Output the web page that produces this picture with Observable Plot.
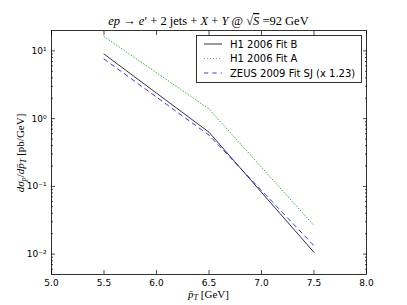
<!DOCTYPE html>
<html>
<head>
<meta charset="utf-8">
<script src="https://cdn.jsdelivr.net/npm/d3@7"></script>
<script src="https://cdn.jsdelivr.net/npm/@observablehq/plot@0.6"></script>
<style>
  html, body { margin: 0; padding: 0; background: #fff; }
  #chart { width: 407px; height: 305px; }
</style>
</head>
<body>
<div id="chart"></div>
<script>
// ---- data ----
const pt = [5.5, 6.5, 7.5];
const fitB = [9.0, 0.63, 0.0106];
const fitA = [16.3, 1.39, 0.0264];
const zeus = [7.6, 0.57, 0.0133];

const seriesNames = ["H1 2006 Fit B", "H1 2006 Fit A", "ZEUS 2009 Fit SJ (x 1.23)"];
const seriesColors = ["#000000", "#119f11", "#0000ff"];
const seriesDash = [null, "0.8,2.2", "4.2,4.2"];

const xTicks = [5.0, 5.5, 6.0, 6.5, 7.0, 7.5, 8.0];
const yMajor = [0.01, 0.1, 1, 10];
const yMinor = [0.006, 0.007, 0.008, 0.009,
  0.02, 0.03, 0.04, 0.05, 0.06, 0.07, 0.08, 0.09,
  0.2, 0.3, 0.4, 0.5, 0.6, 0.7, 0.8, 0.9,
  2, 3, 4, 5, 6, 7, 8, 9];

const rows = [];
[fitB, fitA, zeus].forEach((vals, i) => {
  vals.forEach((v, j) => rows.push({series: seriesNames[i], x: pt[j], y: v}));
});

const supMap = {"-": "\u207B", "0": "\u2070", "1": "\u00B9", "2": "\u00B2", "3": "\u00B3"};
const sup = d => "10" + String(Math.round(Math.log10(d))).split("").map(c => supMap[c]).join("");
const blank = () => "";

const tickFont = "DejaVu Sans, sans-serif";

const chart = Plot.plot({
  width: 407,
  height: 305,
  marginLeft: 51,
  marginRight: 41,
  marginTop: 30,
  marginBottom: 31,
  style: {fontFamily: tickFont, fontSize: "9px", background: "#fff", color: "#000"},
  x: {domain: [5, 8]},
  y: {type: "log", domain: [0.005, 20]},
  marks: [
    Plot.axisX(xTicks, {anchor: "bottom", tickSize: 0, tickPadding: 5, tickFormat: d3.format(".1f"), label: null, fontSize: 9}),
    Plot.axisX(xTicks, {anchor: "bottom", tickSize: -4, tickFormat: blank, label: null, strokeWidth: 0.7}),
    Plot.axisX(xTicks, {anchor: "top", tickSize: -4, tickFormat: blank, label: null, strokeWidth: 0.7}),
    Plot.axisY(yMajor, {anchor: "left", tickSize: 0, tickPadding: 5, tickFormat: sup, label: null, fontSize: 9}),
    Plot.axisY(yMajor, {anchor: "left", tickSize: -4, tickFormat: blank, label: null, strokeWidth: 0.7}),
    Plot.axisY(yMinor, {anchor: "left", tickSize: -2, tickFormat: blank, label: null, strokeWidth: 0.7}),
    Plot.axisY(yMajor, {anchor: "right", tickSize: -4, tickFormat: blank, label: null, strokeWidth: 0.7}),
    Plot.axisY(yMinor, {anchor: "right", tickSize: -2, tickFormat: blank, label: null, strokeWidth: 0.7}),
    ...seriesNames.map((name, i) => Plot.line(rows.filter(r => r.series === name), {
      x: "x", y: "y", stroke: seriesColors[i], strokeWidth: 0.8,
      strokeDasharray: seriesDash[i] || undefined
    })),
    Plot.frame({stroke: "#000", strokeWidth: 0.8})
  ]
});

document.getElementById("chart").appendChild(chart);

// ---- titles, labels, legend ----
const svg = d3.select(chart);
const serif = "Liberation Serif, DejaVu Serif, serif";

function richText(sel, parts) {
  parts.forEach(p => {
    const t = sel.append("tspan").text(p.t);
    if (p.i) t.attr("font-style", "italic");
    if (p.sub) t.attr("baseline-shift", "-25%").attr("font-size", "75%");
    if (p.over) t.attr("text-decoration", "overline");
  });
}

const title = svg.append("text")
  .attr("x", 208.5).attr("y", 25)
  .attr("text-anchor", "middle")
  .attr("font-family", serif).attr("font-size", 12.5).attr("fill", "#000");
richText(title, [
  {t: "ep", i: true}, {t: " \u2192 "}, {t: "e", i: true}, {t: "\u2032 + 2 jets + "},
  {t: "X", i: true}, {t: " + "}, {t: "Y", i: true}, {t: " @ \u221A"},
  {t: "S", i: true, over: true}, {t: " =92 GeV"}
]);

const xl = svg.append("text")
  .attr("x", 208.5).attr("y", 298)
  .attr("text-anchor", "middle")
  .attr("font-family", serif).attr("font-size", 11).attr("fill", "#000");
richText(xl, [{t: "p\u0304", i: true}, {t: "T", i: true, sub: true}, {t: " [GeV]"}]);

const yl = svg.append("text")
  .attr("transform", "translate(24,153) rotate(-90)")
  .attr("text-anchor", "middle")
  .attr("font-family", serif).attr("font-size", 11).attr("fill", "#000");
richText(yl, [
  {t: "d\u03C3", i: true}, {t: "p", i: true, sub: true}, {t: "/"},
  {t: "dp\u0304", i: true}, {t: "T", i: true, sub: true}, {t: " [pb/GeV]"}
]);

const lg = svg.append("g");
lg.append("rect").attr("x", 196.5).attr("y", 35.5).attr("width", 165).attr("height", 47)
  .attr("fill", "#fff").attr("stroke", "#000").attr("stroke-width", 0.8);
seriesNames.forEach((name, i) => {
  const cy = 44 + i * 14.5;
  lg.append("line").attr("x1", 204).attr("x2", 222).attr("y1", cy).attr("y2", cy)
    .attr("stroke", seriesColors[i]).attr("stroke-width", 0.8)
    .attr("stroke-dasharray", seriesDash[i]);
  lg.append("text").attr("x", 230).attr("y", cy).attr("dy", "0.35em")
    .attr("text-anchor", "start")
    .attr("font-family", tickFont).attr("font-size", 10).attr("fill", "#000")
    .text(name);
});
</script>
</body>
</html>
